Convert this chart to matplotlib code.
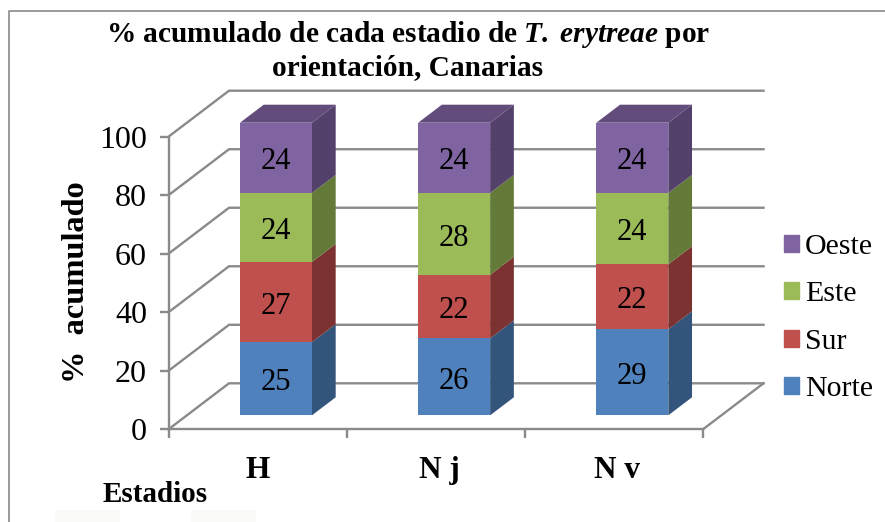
import matplotlib
matplotlib.use("Agg")
import matplotlib.pyplot as plt
from matplotlib.lines import Line2D
from matplotlib.patches import Patch, Rectangle

plt.rcParams['font.family'] = ['Liberation Serif', 'DejaVu Serif']
plt.rcParams['mathtext.fontset'] = 'custom'
plt.rcParams['mathtext.bfit'] = 'Liberation Serif:italic:bold'
plt.rcParams['mathtext.bf'] = 'Liberation Serif:bold'

# data
estadios = ['H', 'N j', 'N v']
series = ['Norte', 'Sur', 'Este', 'Oeste']
norte = [25.0, 26.3, 29.4]
sur = [27.4, 21.7, 22.2]
este = [23.6, 28.0, 24.4]
oeste = [24.0, 24.0, 24.0]
valores = [norte, sur, este, oeste]
yticks = [0, 20, 40, 60, 80, 100]

# colours: front, side, top
frente = ['#4F81BD', '#C0504D', '#9BBB59', '#8064A2']
lado = ['#33547B', '#7B3230', '#647A39', '#53406B']
tapa_oeste = '#624C7C'
gris = '#8A8A8A'

W, H = 885, 522
fig = plt.figure(figsize=(W / 100, H / 100), dpi=100)
ax = fig.add_axes([168.5 / W, (H - 429.3) / H, 534.5 / W, 292.6 / H])
ax.set_xlim(0, 3)
ax.set_ylim(0, 100)

# fake 3d depth, in data units
prof_x = 0.3396
prof_y = 15.72
bar_w = 0.404
z0 = 0.304
z1 = 0.696

# walls
for v in yticks:
    ax.plot([0, prof_x, 3 + prof_x], [v, v + prof_y, v + prof_y], color=gris, lw=1.7,
            clip_on=False, zorder=1, solid_joinstyle='miter')
ax.plot([3, 3 + prof_x], [0, prof_y], color=gris, lw=1.7, clip_on=False, zorder=1)

# bars
base = [z0 * prof_y] * len(estadios)
pos = [i + 0.5 + z0 * prof_x for i in range(len(estadios))]
for s in range(len(series)):
    vals = valores[s]
    ax.bar(pos, vals, bar_w, bottom=base, color=frente[s], clip_on=False, zorder=3)
    for i in range(len(pos)):
        x1 = pos[i] + bar_w / 2
        dx = (z1 - z0) * prof_x
        dy = (z1 - z0) * prof_y
        b = base[i]
        t = base[i] + vals[i]
        ax.fill([x1, x1 + dx, x1 + dx, x1], [b, b + dy, t + dy, t], color=lado[s], lw=0,
                clip_on=False, zorder=2.5)
        if s == len(series) - 1:
            x0 = pos[i] - bar_w / 2
            ax.fill([x0, x1, x1 + dx, x0 + dx], [t, t, t + dy, t + dy], color=tapa_oeste, lw=0,
                    clip_on=False, zorder=2.5)
        ax.annotate('%.0f' % vals[i], (pos[i], b + vals[i] / 2), xytext=(0, -3),
                    textcoords='offset points', ha='center', va='center',
                    fontsize=22, color='black', zorder=4)
    base = [base[i] + vals[i] for i in range(len(pos))]

# axes
for sp in ['top', 'right']:
    ax.spines[sp].set_visible(False)
for sp in ['left', 'bottom']:
    ax.spines[sp].set_color(gris)
    ax.spines[sp].set_linewidth(1.7)
ax.patch.set_visible(False)
ax.set_yticks(yticks)
ax.set_xticks([0, 1, 2, 3])
ax.set_xticklabels([])
ax.set_xticks([0.5, 1.52, 2.52], estadios, minor=True, fontweight='bold', fontsize=22.5)
ax.tick_params(axis='x', which='major', length=6.5, width=1.7, color=gris)
ax.tick_params(axis='x', which='minor', length=0, pad=19)
ax.tick_params(axis='y', length=6.5, width=1.7, color=gris, labelsize=23, pad=9)
ax.set_ylabel('%  acumulado', fontweight='bold', fontsize=23.3)
ax.yaxis.set_label_coords((91 - 168.5) / 534.5, 0.5017)

fig.text(408 / W, 1 - 35 / H, r'% acumulado de cada estadio de $\mathbfit{T.\!\ erytreae}$ por',
         ha='center', va='center', fontsize=21.2, fontweight='bold')
fig.text(408 / W, 1 - 68 / H, 'orientación, Canarias', ha='center', va='center',
         fontsize=21.2, fontweight='bold')
fig.text(103 / W, 1 - 495 / H, 'Estadios', ha='left', va='center', fontsize=21, fontweight='bold')

# legend, top to bottom Oeste..Norte
handles = [Patch(color=frente[s], label=series[s]) for s in range(3, -1, -1)]
fig.legend(handles=handles, frameon=False, fontsize=21.5, loc='center left',
           bbox_to_anchor=(784 / W, 1 - 318 / H), handlelength=0.5, handleheight=0.5,
           handletextpad=0.2, labelspacing=0.72, borderpad=0, borderaxespad=0)

# chart border, cut by the picture edge
fig.add_artist(Line2D([9 / W, 9 / W, 1], [0, 1 - 11 / H, 1 - 11 / H], color=gris, lw=1.2))
# faint scan boxes at the bottom
for x0, x1 in [(55, 120), (191, 256)]:
    fig.add_artist(Rectangle((x0 / W, 0), (x1 - x0) / W, 12 / H, transform=fig.transFigure,
                             color='#FAFAF8', lw=0))

fig.savefig('out.png', dpi=100)
